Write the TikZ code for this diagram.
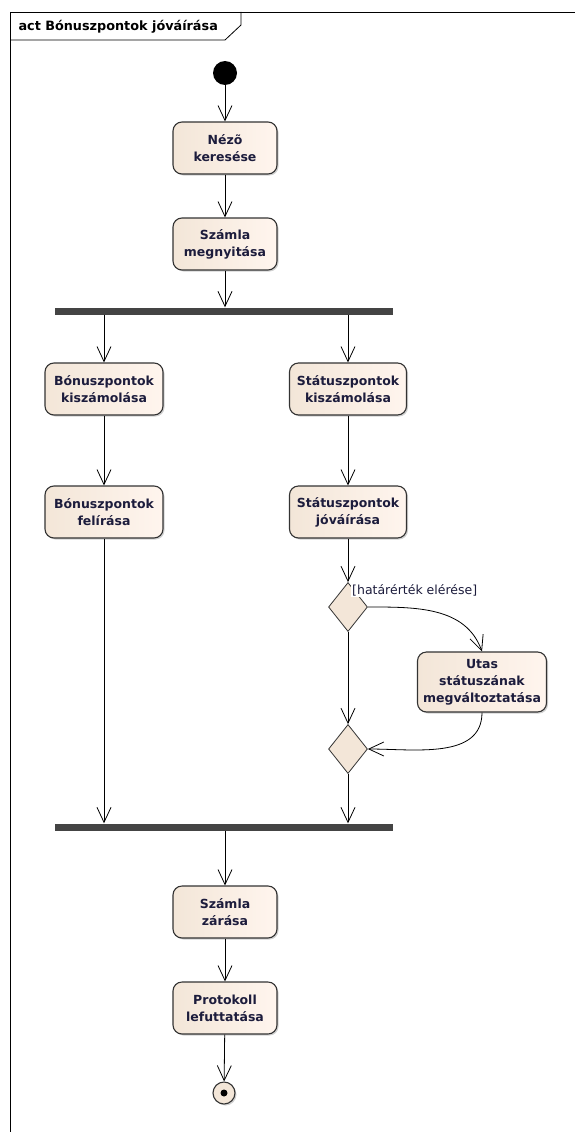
\documentclass[tikz,border=0pt]{standalone}
\usepackage{fontspec}
\setmainfont{DejaVu Sans}
\usepackage{tikz}
\usetikzlibrary{arrows.meta, shapes.geometric, shadows}
\definecolor{actFill}{HTML}{F3E6D8}
\definecolor{actLight}{HTML}{FFF5EE}
\definecolor{actText}{HTML}{1C1C3C}
\definecolor{barColor}{HTML}{444444}

\begin{document}
\begin{tikzpicture}[x=1pt, y={(0,-1pt)},
    action/.style={draw=black!80, line width=1.1pt, rounded corners=9pt,
        left color=actFill, right color=actLight, text=actText,
        font=\fontsize{12.5}{17}\selectfont\bfseries, align=center,
        minimum width=104pt, minimum height=52pt, inner sep=1pt,
        drop shadow={shadow xshift=1.5pt, shadow yshift=-1.5pt, fill=black!30, opacity=0.6}},
    choice/.style={diamond, draw=black!80, line width=0.8pt, fill=actFill,
        minimum width=39pt, minimum height=49pt, inner sep=0pt},
    syncbar/.style={fill=barColor, minimum width=338pt, minimum height=7pt, inner sep=0pt},
    flow/.style={-{Straight Barb[length=15pt, width=14pt]}, line width=0.8pt}]
    \useasboundingbox (0,0) rectangle (574,1132);
    % frame
    \draw[line width=0.8pt] (10,1140) -- (10,12) -- (580,12);
    \draw[line width=0.8pt] (10,40) -- (225,40) -- (241,25) -- (241,12);
    \node[anchor=base west, font=\fontsize{12.8}{14}\selectfont\bfseries] (title) at (15,31) {act Bónuszpontok jóváírása};
    % nodes
    \node[circle, fill=black, minimum size=24pt, inner sep=0pt] (start) at (225,73) {};
    \node[action] (nezo) at (225,148) {Nézõ\\keresése};
    \node[action] (megnyit) at (225,244) {Számla\\megnyitása};
    \node[syncbar] (fork) at (224,311) {};
    \node[action, minimum width=118pt] (bonszam) at (104,389) {Bónuszpontok\\kiszámolása};
    \node[action, minimum width=118pt] (bonfel) at (104,512) {Bónuszpontok\\felírása};
    \node[action, minimum width=117pt] (statszam) at (348,389) {Státuszpontok\\kiszámolása};
    \node[action, minimum width=117pt] (statjov) at (348,512) {Státuszpontok\\jóváírása};
    \node[choice] (dec) at (348,607) {};
    \node[anchor=west, fill=white, inner sep=1pt, text=actText, font=\fontsize{12.5}{14}\selectfont] (guard) at (351,590) {[határérték elérése]};
    \node[action, minimum width=129pt, minimum height=60pt] (utas) at (482,682) {Utas\\státuszának\\megváltoztatása};
    \node[choice] (merge) at (348,749) {};
    \node[syncbar] (join) at (224,827) {};
    \node[action] (zaras) at (225,912) {Számla\\zárása};
    \node[action] (proto) at (225,1008) {Protokoll\\lefuttatása};
    \node[circle, draw=black!80, line width=1.1pt, fill=actFill, minimum size=22pt, inner sep=0pt,
        drop shadow={shadow xshift=1.5pt, shadow yshift=-1.5pt, fill=black!30, opacity=0.6}] (final) at (224,1093) {};
    \fill (final) circle (3.5pt);
    % connectors
    \draw[flow] (start) -- (nezo);
    \draw[flow] (nezo) -- (megnyit);
    \draw[flow] (megnyit) -- (fork.north -| megnyit);
    \draw[flow] (fork.south -| bonszam) -- (bonszam);
    \draw[flow] (fork.south -| statszam) -- (statszam);
    \draw[flow] (bonszam) -- (bonfel);
    \draw[flow] (statszam) -- (statjov);
    \draw[flow] (statjov) -- (dec);
    \draw[flow] (dec.east) to[out=0, in=110] (utas.north);
    \draw[flow] (dec.south) -- (merge.north);
    \draw[flow] (utas.south) to[out=-90, in=0] (merge.east);
    \draw[flow] (merge.south) -- (join.north -| merge);
    \draw[flow] (bonfel) -- (join.north -| bonfel);
    \draw[flow] (join.south -| zaras) -- (zaras);
    \draw[flow] (zaras) -- (proto);
    \draw[flow] (proto) -- (final);
\end{tikzpicture}
\end{document}
